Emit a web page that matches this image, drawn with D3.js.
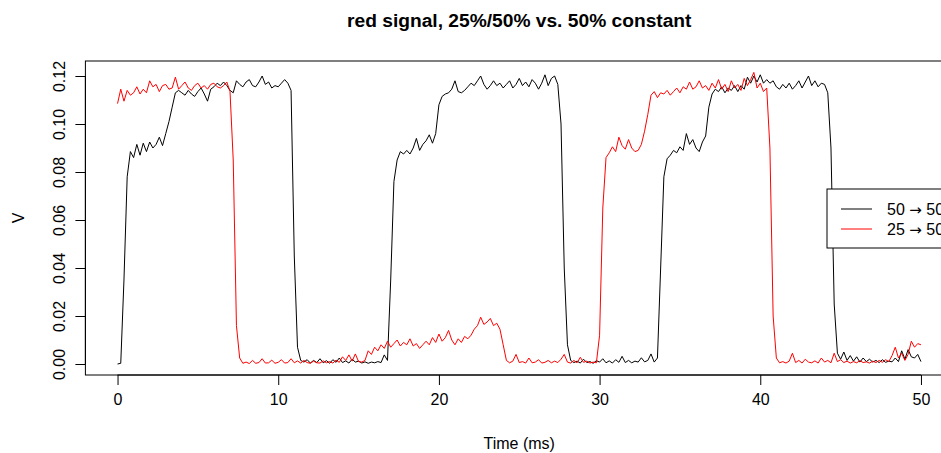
<!DOCTYPE html>
<html>
<head>
<meta charset="utf-8">
<script src="https://cdn.jsdelivr.net/npm/d3@7"></script>
<style>
  html, body { margin: 0; padding: 0; background: #fff; overflow: hidden; }
  svg { display: block; }
  text { font-family: "Liberation Sans", Arial, sans-serif; fill: #000; }
</style>
</head>
<body>
<svg id="chart" width="941" height="453"></svg>
<script>
// ---- data ----
const title = "red signal, 25%/50% vs. 50% constant";
const xLabel = "Time (ms)";
const yLabel = "V";
const seriesFrom = ["50", "25"];
const seriesTo = ["50%", "50%"];
const seriesColors = ["#000000", "#ff0000"];
const sampleStepMs = 0.2; // time between samples, starting at 0 ms
const xTicks = [0, 10, 20, 30, 40, 50];
const yTicks = [0.00, 0.02, 0.04, 0.06, 0.08, 0.10, 0.12];
const yTickLabels = ["0.00", "0.02", "0.04", "0.06", "0.08", "0.10", "0.12"];

// millivolts, one value per sample
const black50to50_mV = [
  0, 0.3, 35, 78, 88.5, 86, 91.5, 87, 92, 88.5,
  92.5, 90, 91.5, 94.5, 91, 96, 101, 107, 113, 114,
  113, 112, 114, 112.5, 111.5, 113.5, 115, 112.5, 109.5, 114.5,
  115.5, 117, 116, 117.5, 116, 114, 113, 118, 116.5, 115.5,
  117.5, 118.5, 116, 115.5, 117.5, 120, 116.5, 117.5, 115, 116,
  115.5, 117, 118.5, 117, 114, 45, 7, 1.5, 0.8, 1.8,
  0.4, 1.5, 0.6, 2.2, 0.5, 1.4, 0.3, 1.8, 0.7, 2.5,
  0.6, 1.3, 0.4, 2.0, 0.8, 1.2, 0.4, 0.9, 0.3, 0.8,
  0.5, 1.0, 0.6, 3.8, 1.5, 35, 76, 85, 88.5, 87.5,
  89, 87.5, 90, 94, 89, 91.5, 93, 95.5, 92, 96,
  108, 111.5, 112.5, 113, 114.5, 118, 113.5, 113, 114, 115.5,
  117, 116, 118, 120, 116.5, 114.5, 116, 118, 116, 117,
  115, 116.5, 118, 115, 116.5, 119, 116, 117.5, 115.5, 118.5,
  117, 114.5, 117, 120.5, 116, 119, 120, 116.5, 100, 40,
  8, 1.5, 0.6, 1.2, 0.4, 2.0, 0.6, 1.0, 0.3, 1.4,
  0.8, 2.2, 0.5, 1.3, 0.4, 1.8, 0.7, 3.2, 0.6, 1.5,
  0.5, 1.2, 0.8, 2.6, 0.9, 1.5, 4.2, 0.8, 2.5, 40,
  78, 85.5, 87, 89, 88, 90.5, 89, 96, 91.5, 93.5,
  90, 88.5, 92.5, 95, 107, 112.5, 114.5, 113.5, 115.5, 113,
  115, 114, 116, 113.5, 116, 114.5, 119.5, 117, 120, 117.5,
  120.5, 117, 118.5, 117, 118, 115.5, 114.5, 116.5, 115, 117,
  114.5, 116, 118, 115, 117.5, 120, 116, 118, 115.5, 117,
  116.5, 113, 90, 25, 4.5, 2.0, 5.0, 1.5, 3.5, 1.2,
  3.0, 0.8, 2.5, 1.0, 2.0, 0.8, 1.5, 0.6, 1.8, 0.7,
  1.2, 0.9, 2.5, 1.0, 5.5, 2.0, 6.0, 3.0, 2.5, 4.0,
  1.0
];
const red25to50_mV = [
  108.5, 114.5, 109.5, 114, 112, 113, 115.5, 112.5, 114.5, 113,
  118, 115.5, 116.5, 113.5, 116, 116.5, 114.5, 115, 119.5, 114.5,
  116, 117.5, 115, 114, 116, 117, 115, 116, 114.5, 116.5,
  117, 115.5, 115, 116, 117.5, 113.5, 85, 16, 2.5, 0.3,
  0.8, 0.2, 1.5, 0.3, 0.6, 2.2, 0.4, 0.5, 1.6, 0.3,
  0.7, 1.8, 0.4, 0.6, 2.2, 0.5, 1.3, 0.4, 1.5, 0.6,
  0.3, 1.2, 0.5, 0.4, 1.3, 0.5, 1.0, 0.4, 1.6, 0.7,
  3.0, 1.5, 3.8, 1.2, 4.2, 1.0, 0.8, 1.5, 5.5, 4.0,
  7.0, 5.5, 8.0, 6.5, 9.5, 7.0, 8.5, 10.0, 7.5, 9.0,
  8.0, 10.5, 7.5, 8.5, 6.5, 8.0, 9.5, 8.0, 11.0, 9.0,
  12.5, 9.5, 11.0, 14.0, 10.0, 8.0, 10.5, 9.0, 11.5, 10.5,
  12.0, 14.5, 16.0, 19.5, 16.5, 17.5, 19.0, 16.0, 17.0, 14.5,
  8.0, 1.5, 0.5, 1.2, 4.0, 0.6, 1.0, 0.4, 2.5, 0.5,
  0.8, 1.8, 0.4, 0.7, 1.5, 0.5, 1.2, 0.6, 2.0, 4.0,
  0.8, 0.4, 1.5, 0.5, 2.8, 0.7, 1.2, 0.4, 0.8, 0.5,
  12, 65, 86, 88, 90.5, 88.5, 94.5, 91, 89.5, 93.5,
  90, 88.5, 89, 91.5, 97, 104, 112, 113.5, 111, 113,
  112.5, 114, 112, 113.5, 115, 113, 115.5, 114.5, 117.5, 114.5,
  115.5, 118, 115, 116, 114, 117, 115, 118.5, 114.5, 116.5,
  113.5, 118, 115, 116.5, 114, 119, 116, 118.5, 121.5, 115,
  117, 113.5, 115, 90, 20, 2.5, 0.5, 1.0, 0.4, 1.2,
  4.5, 0.6, 1.5, 0.4, 2.0, 0.8, 0.5, 1.3, 0.4, 2.5,
  0.8, 1.5, 0.5, 4.5, 1.0, 1.8, 0.6, 1.2, 0.4, 1.0,
  0.5, 1.4, 0.6, 0.9, 0.4, 1.2, 0.6, 1.5, 0.7, 1.8,
  1.0, 3.5, 7.0, 2.5, 4.5, 1.5, 4.0, 9.5, 7.0, 8.5,
  8.0
];

// ---- layout ----
const svg = d3.select("#chart");
const plotLeft = 85.4, plotRight = 953.1, plotTop = 61, plotBottom = 375;

const x = d3.scaleLinear().domain([-2, 52]).range([plotLeft, plotRight]);
const y = d3.scaleLinear().domain([-0.00458, 0.12625]).range([plotBottom, plotTop]);

const toPoints = arr => arr.map((mv, i) => ({ t: i * sampleStepMs, v: mv / 1000 }));
const series = [
  { from: seriesFrom[0], to: seriesTo[0], color: seriesColors[0], pts: toPoints(black50to50_mV) },
  { from: seriesFrom[1], to: seriesTo[1], color: seriesColors[1], pts: toPoints(red25to50_mV) }
];

// title
svg.append("text")
  .attr("x", (plotLeft + plotRight) / 2).attr("y", 27)
  .attr("text-anchor", "middle")
  .style("font-size", "19.2px").style("font-weight", "bold")
  .text(title);

// lines
const line = d3.line().x(d => x(d.t)).y(d => y(d.v));
series.forEach(s => {
  svg.append("path")
    .datum(s.pts)
    .attr("d", line)
    .attr("fill", "none")
    .attr("stroke", s.color)
    .attr("stroke-width", 1)
    .attr("stroke-linejoin", "round");
});

// box
svg.append("rect")
  .attr("x", plotLeft).attr("y", plotTop)
  .attr("width", plotRight - plotLeft).attr("height", plotBottom - plotTop)
  .attr("fill", "none").attr("stroke", "#000").attr("stroke-width", 1);

// x axis (R style: line from first to last tick)
const xAxis = d3.axisBottom(x).tickValues(xTicks).tickSize(10).tickPadding(9)
  .tickFormat(d3.format("d"));
const gx = svg.append("g").attr("transform", `translate(0,${plotBottom})`).call(xAxis);
gx.select(".domain").attr("d", `M${x(xTicks[0])},0H${x(xTicks[xTicks.length - 1])}`);
gx.attr("font-family", null);
gx.selectAll("text").style("font-size", "16px");

// y axis
const yAxis = d3.axisLeft(y).tickValues(yTicks).tickSize(10)
  .tickFormat((d, i) => yTickLabels[i]);
const gy = svg.append("g").attr("transform", `translate(${plotLeft},0)`).call(yAxis);
gy.select(".domain").attr("d", `M0,${y(yTicks[0])}V${y(yTicks[yTicks.length - 1])}`);
gy.attr("font-family", null);
gy.selectAll(".tick text")
  .attr("x", null).attr("dy", null)
  .attr("text-anchor", "middle")
  .attr("transform", "translate(-20,0) rotate(-90)")
  .style("font-size", "16px");

// axis labels
svg.append("text")
  .attr("x", (plotLeft + plotRight) / 2).attr("y", 449)
  .attr("text-anchor", "middle").style("font-size", "16px")
  .text(xLabel);
svg.append("text")
  .attr("transform", `translate(24,${(plotTop + plotBottom) / 2}) rotate(-90)`)
  .attr("text-anchor", "middle").style("font-size", "16px")
  .text(yLabel);

// legend
const legX = 827, legY = 189;
const leg = svg.append("g");
leg.append("rect")
  .attr("x", legX).attr("y", legY).attr("width", 150).attr("height", 59)
  .attr("fill", "#fff").attr("stroke", "#000").attr("stroke-width", 1);
series.forEach((s, i) => {
  const ly = legY + 20 + i * 20;
  leg.append("line")
    .attr("x1", legX + 14).attr("x2", legX + 45)
    .attr("y1", ly).attr("y2", ly)
    .attr("stroke", s.color).attr("stroke-width", 1);
  const t = leg.append("text")
    .attr("x", legX + 60).attr("y", ly + 5.5)
    .style("font-size", "16px");
  t.append("tspan").text(s.from + " ");
  t.append("tspan").style("font-family", "'DejaVu Sans', sans-serif").style("font-size", "15px").text("\u2192");
  t.append("tspan").text(" " + s.to);
});
</script>
</body>
</html>
